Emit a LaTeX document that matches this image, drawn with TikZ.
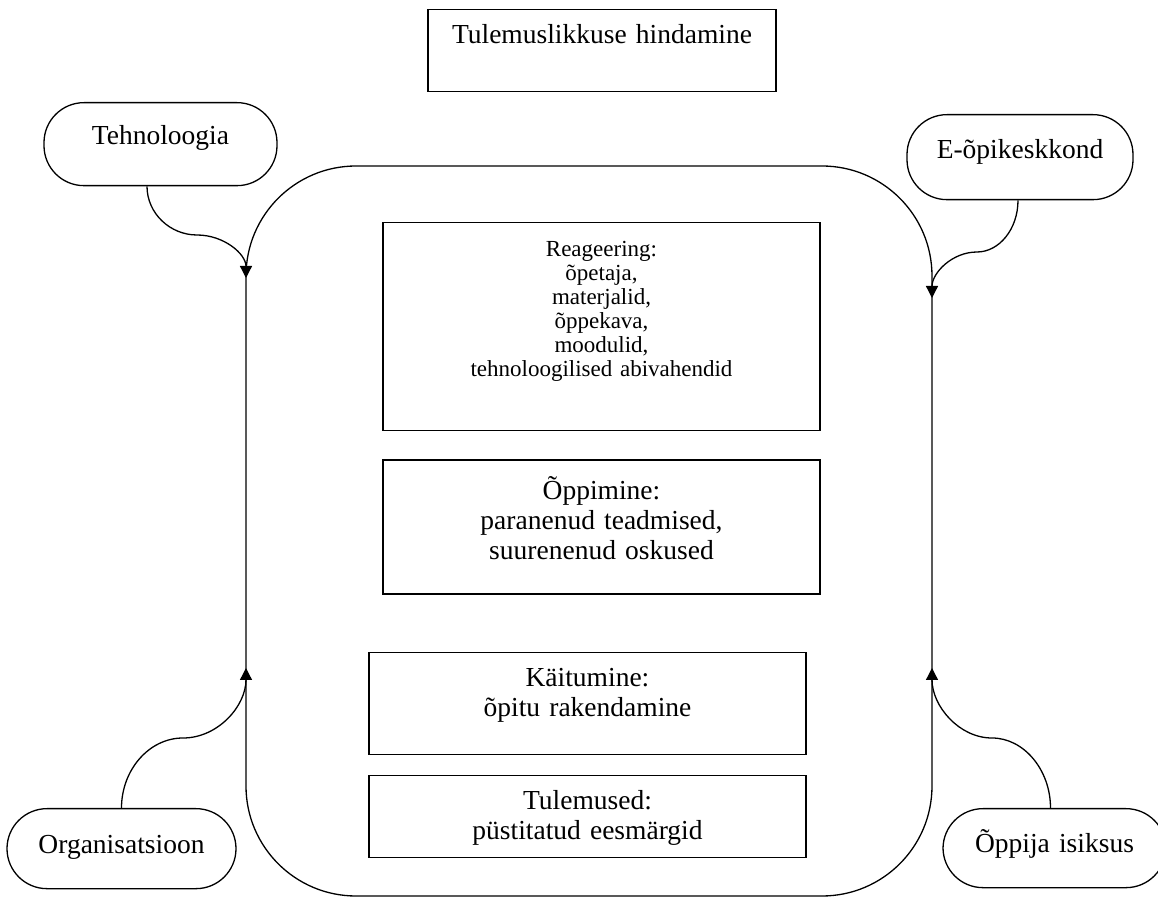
\documentclass[tikz,border=0pt]{standalone}
\usepackage{fontspec}
\setmainfont{Liberation Serif}
\usetikzlibrary{arrows.meta,positioning}
\tikzstyle{box}=[draw, rectangle, inner sep=0pt, align=center, font=\fontsize{13.75}{15}\selectfont]
\tikzstyle{pill}=[box, rounded corners=20pt]
\tikzstyle{small}=[font=\fontsize{11.5}{12}\selectfont]

\begin{document}
\begin{tikzpicture}
[x=0.5pt, y=-0.5pt, line width=0.65pt, >={Triangle[length=6pt,width=6pt]}]
 \useasboundingbox (0,0) rectangle (1158,898);
 \node[draw, rounded corners=55pt, minimum width=343pt, minimum height=365pt] (frame) at (589,531) {};
 \node[box, anchor=north, text width=174pt, text height=17pt, text depth=24pt] (hind) at (602,9) {Tulemuslikkuse hindamine};
 \node[pill, anchor=north, text width=116.5pt, text height=21pt, text depth=20.5pt] (tech) at (160.5,102) {Tehnoloogia};
 \node[pill, anchor=north, text width=113pt, text height=22pt, text depth=20.5pt] (eopi) at (1020,114) {E-õpikeskkond};
 \node[pill, anchor=north, text width=114.5pt, text height=22.5pt, text depth=17.5pt] (org) at (121.5,808) {Organisatsioon};
 \node[pill, anchor=north, text width=111.5pt, text height=22pt, text depth=17.5pt] (isik) at (1054.5,808) {Õppija isiksus};
 \node[box, small, anchor=north, text width=218.5pt, text height=17pt, text depth=87pt] (reag) at (601.5,222)
   {Reageering:\\ õpetaja,\\ materjalid,\\ õppekava,\\ moodulid,\\ tehnoloogilised abivahendid};
 \node[box, text width=218.5pt, text height=20pt, text depth=47pt, below=14pt of reag] (opp)
   {Õppimine:\\ paranenud teadmised,\\ suurenenud oskused};
 \node[box, text width=218.5pt, text height=17pt, text depth=34pt, below=28.5pt of opp, xshift=-7pt] (kait)
   {Käitumine:\\ õpitu rakendamine};
 \node[box, text width=218.5pt, text height=17pt, text depth=24pt, below=10pt of kait] (tul)
   {Tulemused:\\ püstitatud eesmärgid};
 \coordinate (bendTL) at (197,235);
 \coordinate (tipTL) at (246,278);
 \coordinate (bendTR) at (977,252);
 \coordinate (tipTR) at (932,298);
 \coordinate (bendBL) at (183,738);
 \coordinate (tipBL) at (246,668);
 \coordinate (bendBR) at (992,738);
 \coordinate (tipBR) at (932,668);
 \draw[->] ([xshift=-6.75pt]tech.south) .. controls +(0,27) and +(-27,0) .. (bendTL)
   .. controls +(27,0) and +(0,-24) .. (tipTL);
 \draw[->] ([xshift=-1pt]eopi.south) .. controls +(0,29) and +(22,0) .. (bendTR)
   .. controls +(-25,0) and +(0,-25) .. (tipTR);
 \draw[->] (org.north) .. controls +(0,-38) and +(-34,0) .. (bendBL)
   .. controls +(35,0) and +(0,38) .. (tipBL);
 \draw[->] ([xshift=-2pt]isik.north) .. controls +(0,-38) and +(32,0) .. (bendBR)
   .. controls +(-33,0) and +(0,38) .. (tipBR);
\end{tikzpicture}
\end{document}
